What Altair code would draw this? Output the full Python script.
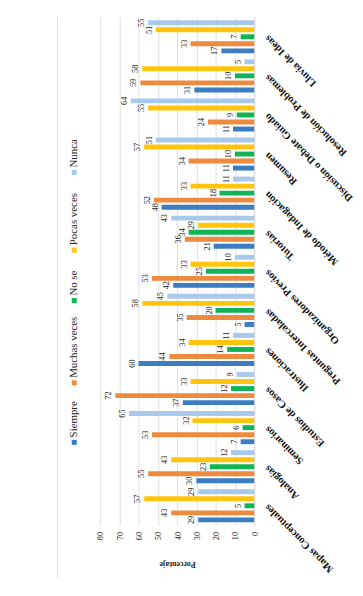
import altair as alt
import pandas as pd

categories = [
    "Mapas Conceptuales", "Analogías", "Seminarios", "Estudios de Casos",
    "Ilustraciones", "Preguntas Intercaladas", "Organizadores Previos",
    "Tutorías", "Método de Indagación", "Resumen",
    "Discusión o Debate Guiado", "Resolución de Problemas", "Lluvia de Ideas",
]
series = ["Siempre", "Muchas veces", "No se", "Pocas veces", "Nunca"]

siempre = [29, 30, 7, 37, 60, 5, 42, 21, 48, 11, 11, 31, 17]
muchas = [43, 55, 53, 72, 44, 35, 53, 36, 52, 34, 24, 59, 33]
nose = [5, 23, 6, 12, 14, 20, 25, 34, 18, 10, 9, 10, 7]
pocas = [57, 43, 32, 33, 34, 58, 33, 29, 33, 57, 55, 58, 51]
nunca = [29, 12, 65, 9, 11, 45, 10, 43, 11, 51, 64, 5, 55]

ticks = [0, 10, 20, 30, 40, 50, 60, 70, 80]
colors = ["#3B7DC0", "#EE8A3E", "#11B454", "#FFC50C", "#A8C9EC"]

rows = []
for s, vals in zip(series, [siempre, muchas, nose, pocas, nunca]):
    for c, v in zip(categories, vals):
        rows.append({"categoria": c, "serie": s, "valor": v})
df = pd.DataFrame(rows)

H = 514
W = 156
FONT = "Liberation Serif"

color = alt.Color("serie:N", scale=alt.Scale(domain=series, range=colors), legend=None)

y = alt.Y(
    "categoria:N",
    sort=categories[::-1],
    scale=alt.Scale(paddingInner=0.1, paddingOuter=0.05),
    axis=alt.Axis(
        orient="right", title=None, labelAngle=225, labelAlign="right",
        labelBaseline="middle", labelFont=FONT, labelFontWeight="bold",
        labelFontSize=10.5, labelColor="#111", labelPadding=12, ticks=False,
        domainColor="#d9d9d9", labelLimit=220,
    ),
)
yoff = alt.YOffset(
    "serie:N", sort=series[::-1],
    scale=alt.Scale(paddingInner=0.3, paddingOuter=0.15),
)
x = alt.X(
    "valor:Q",
    scale=alt.Scale(domain=[0, 80], reverse=True, nice=False),
    axis=alt.Axis(
        values=ticks, title="Porcentaje", titleAngle=180, titleFont=FONT,
        titleFontWeight="bold", titleFontSize=8, titleColor="#222",
        titleBaseline="bottom", titlePadding=20,
        labelAngle=270, labelAlign="right",
        labelBaseline="middle", labelPadding=6, labelFont=FONT,
        labelFontSize=8.5, labelColor="#222", labelOverlap=False,
        labelFlush=False, labelSeparation=0, ticks=False, domain=False,
        grid=True, gridColor="#d6d6d6", gridWidth=0.8,
    ),
)

bars = alt.Chart(df).mark_bar().encode(x=x, y=y, yOffset=yoff, color=color)
labels = alt.Chart(df).mark_text(
    angle=270, align="center", baseline="bottom", dy=-2,
    font=FONT, fontSize=8.5, color="#222",
).encode(x=x, y=y, yOffset=yoff, text="valor:Q")
main = (bars + labels).properties(width=W, height=H)

leg_df = pd.DataFrame({"serie": series, "orden": list(range(len(series)))})
leg = alt.Chart(leg_df).transform_calculate(
    w="length(datum.serie) * 4.6 + 28"
).transform_window(
    cum="sum(w)", sort=[alt.SortField("orden")], frame=[None, 0]
).transform_calculate(start="datum.cum - datum.w")
ly = alt.Y("start:Q", scale=alt.Scale(domain=[-84, H - 84], nice=False, zero=False), axis=None)
sq = leg.mark_square(size=26, opacity=1).encode(x=alt.value(18), y=ly, color=color)
tx = leg.mark_text(
    angle=270, align="left", baseline="middle", dx=5,
    font=FONT, fontSize=11, color="#222",
).encode(x=alt.value(18), y=ly, text="serie:N")
frame_df = pd.DataFrame({"k": [0]})
frame = alt.Chart(frame_df).mark_rule(color="#dedee8", strokeWidth=1).encode(
    x=alt.value(1), y=alt.value(0), y2=alt.value(567)
)
legend_panel = (frame + sq + tx).properties(width=26, height=H)

chart = alt.hconcat(legend_panel, main, spacing=14).properties(
    padding={"left": 49, "top": 5, "right": 0, "bottom": 5}
).configure_view(strokeWidth=0).configure_axis(labelOverlap=False)

chart.save("out.html", embed_options={"renderer": "svg", "actions": False})
